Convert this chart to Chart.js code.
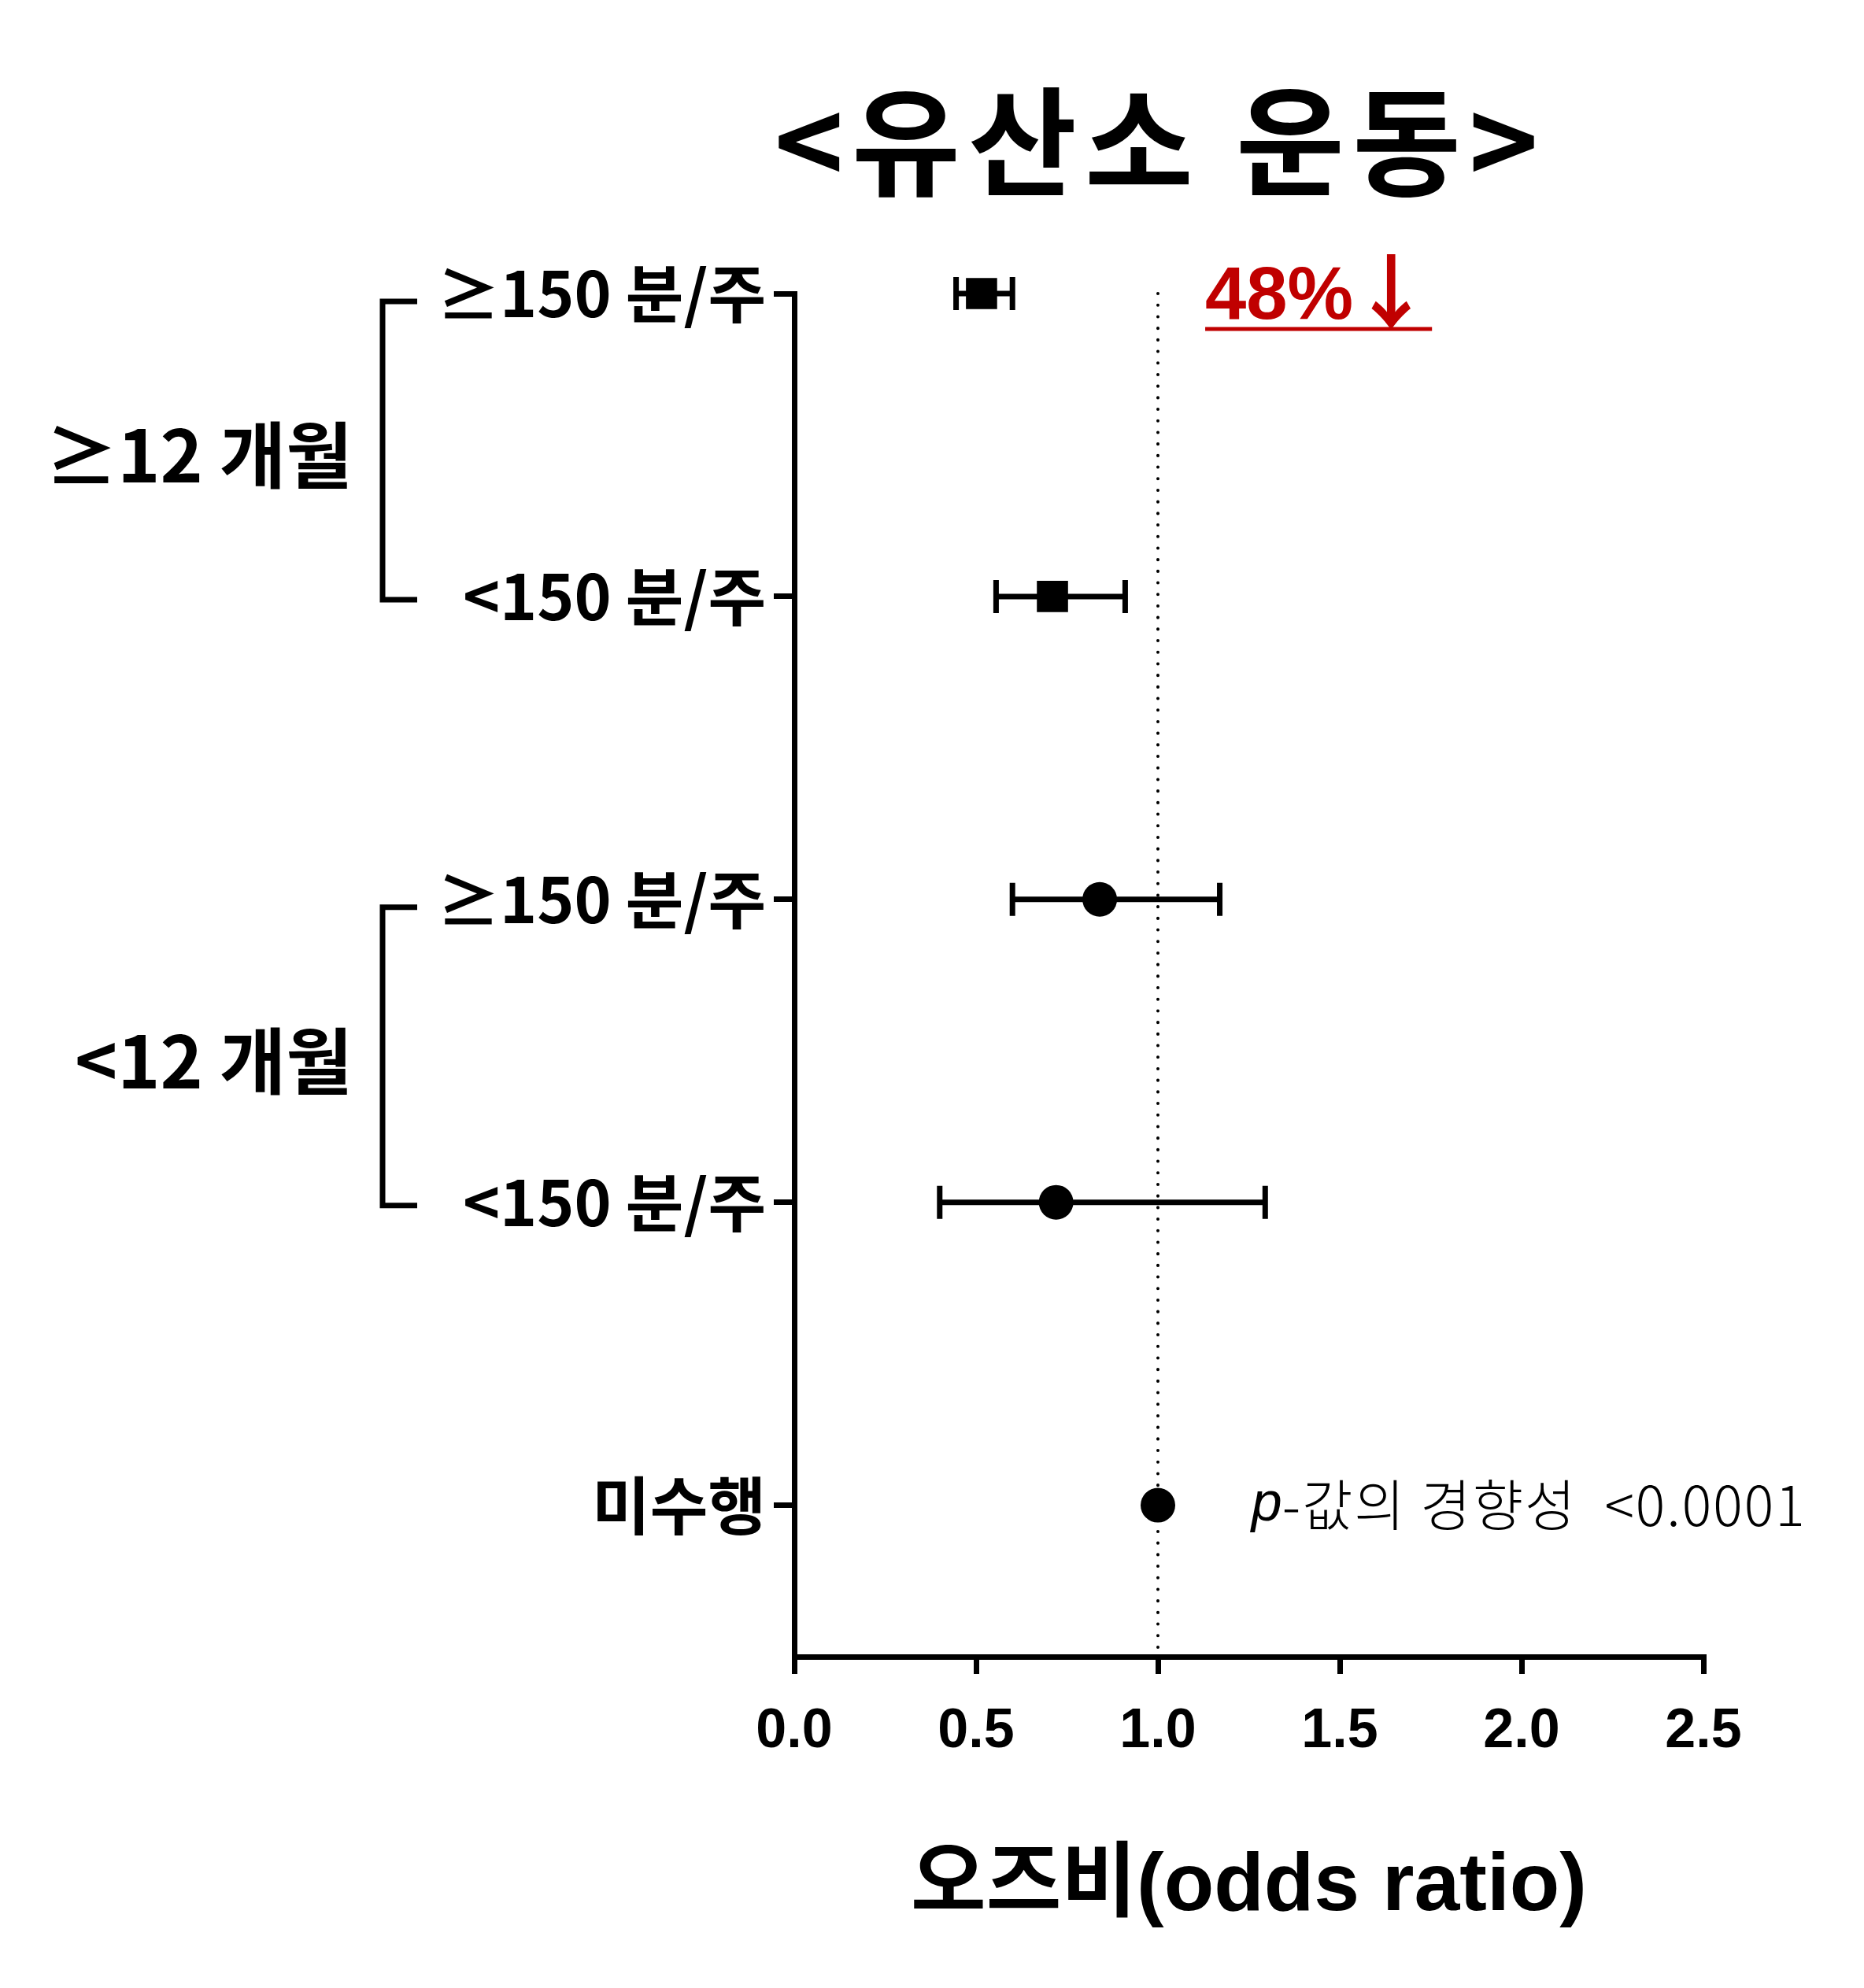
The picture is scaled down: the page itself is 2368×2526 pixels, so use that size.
<!DOCTYPE html>
<html>
<head>
<meta charset="utf-8">
<script src="https://cdn.jsdelivr.net/npm/chart.js@4"></script>
<style>
  html, body { margin: 0; padding: 0; background: #fff; }
  canvas { display: block; }
</style>
</head>
<body>
<canvas id="forestChart" width="2368" height="2526" style="width:2368px;height:2526px"></canvas>
<script>
// rows from bottom (0) to top (4)
const rowLabels = ['미수행', '<150 분/주', '≥150 분/주', '<150 분/주', '≥150 분/주'];
const rowPos = [0, 1, 2, 3, 4];
const oddsRatio = [1.0, 0.72, 0.84, 0.71, 0.515];
const ciLow = [null, 0.40, 0.60, 0.555, 0.445];
const ciHigh = [null, 1.295, 1.17, 0.91, 0.60];
const markerShape = ['circle', 'circle', 'circle', 'rect', 'rect'];
const groupLabels = ['<12 개월', '≥12 개월'];
const groupRows = [[1, 2], [3, 4]];
const xTickValues = [0, 0.5, 1.0, 1.5, 2.0, 2.5];
const refValue = 1.0;

const titleText = '<유산소 운동>';
const xTitleText = '오즈비(odds ratio)';
const reductionText = '48%';
const arrowText = '↓';
const trendText = '-값의 경향성  <0.0001';

const KR = "'Noto Sans CJK KR', sans-serif";

const annotations = {
  id: 'annotations',
  beforeDatasetsDraw(chart) {
    const { ctx, scales: { x, y }, chartArea } = chart;
    ctx.save();
    // dotted reference line at OR = 1
    ctx.strokeStyle = '#000';
    ctx.lineWidth = 4;
    ctx.lineCap = 'round';
    ctx.setLineDash([0.1, 14.6]);
    ctx.beginPath();
    ctx.moveTo(x.getPixelForValue(refValue), y.getPixelForValue(rowPos[4]));
    ctx.lineTo(x.getPixelForValue(refValue), chartArea.bottom);
    ctx.stroke();
    ctx.setLineDash([]);

    // error bars
    ctx.lineCap = 'butt';
    ctx.lineWidth = 7;
    rowPos.forEach((r, i) => {
      if (ciLow[i] == null) return;
      const yp = y.getPixelForValue(r);
      const x1 = x.getPixelForValue(ciLow[i]);
      const x2 = x.getPixelForValue(ciHigh[i]);
      ctx.beginPath();
      ctx.moveTo(x1, yp); ctx.lineTo(x2, yp);
      ctx.moveTo(x1, yp - 21); ctx.lineTo(x1, yp + 21);
      ctx.moveTo(x2, yp - 21); ctx.lineTo(x2, yp + 21);
      ctx.stroke();
    });
    ctx.restore();
  },
  afterDraw(chart) {
    const { ctx, scales: { x, y } } = chart;
    ctx.save();
    ctx.fillStyle = '#000';

    // title
    ctx.font = 'bold 150px ' + KR;
    ctx.letterSpacing = '10px';
    ctx.textAlign = 'center';
    ctx.textBaseline = 'middle';
    ctx.fillText(titleText, 1474, 180);
    ctx.letterSpacing = '0px';

    // x axis title
    ctx.font = "bold 104px 'Liberation Sans', 'Noto Sans CJK KR', sans-serif";
    ctx.fillText(xTitleText, (x.left + x.right) / 2, 2398);

    // group brackets and labels
    ctx.strokeStyle = '#000';
    ctx.lineWidth = 7;
    groupRows.forEach((rows, g) => {
      const yTop = y.getPixelForValue(rows[1]) + 10;
      const yBot = y.getPixelForValue(rows[0]) + 4;
      ctx.beginPath();
      ctx.moveTo(530, yTop); ctx.lineTo(486, yTop); ctx.lineTo(486, yBot); ctx.lineTo(530, yBot);
      ctx.stroke();
      ctx.font = 'bold 92px ' + KR;
      ctx.textAlign = 'right';
      ctx.textBaseline = 'middle';
      ctx.fillText(groupLabels[g], 448, (yTop + yBot) / 2 + 6);
    });

    // reduction annotation
    ctx.fillStyle = '#C00000';
    ctx.strokeStyle = '#C00000';
    ctx.font = "bold 94px 'Liberation Sans Narrow', 'Liberation Sans', sans-serif";
    ctx.textAlign = 'left';
    ctx.textBaseline = 'alphabetic';
    const ax = x.getPixelForValue(1.13);
    const ay = y.getPixelForValue(rowPos[4]) + 32;
    ctx.fillText(reductionText, ax, ay);
    const w1 = ctx.measureText(reductionText).width;
    ctx.font = 'bold 104px ' + KR;
    ctx.fillText(arrowText, ax + w1 - 4, ay + 6);
    const w2 = ctx.measureText(arrowText).width;
    ctx.lineWidth = 5;
    ctx.beginPath();
    ctx.moveTo(ax, ay + 13); ctx.lineTo(ax + w1 + w2 - 4, ay + 13);
    ctx.stroke();

    // p for trend
    ctx.fillStyle = '#000';
    const px = x.getPixelForValue(1.257);
    const py = y.getPixelForValue(rowPos[0]);
    ctx.textBaseline = 'middle';
    ctx.font = "italic 70px 'Liberation Sans', sans-serif";
    ctx.fillText('p', px, py);
    const pw = ctx.measureText('p').width;
    ctx.font = '300 70px ' + KR;
    ctx.letterSpacing = '2px';
    ctx.fillText(trendText, px + pw, py);
    ctx.restore();
  }
};

const ctx = document.getElementById('forestChart').getContext('2d');
new Chart(ctx, {
  type: 'scatter',
  data: {
    datasets: [{
      data: rowPos.map((r, i) => ({ x: oddsRatio[i], y: r })),
      pointStyle: markerShape,
      pointRadius: markerShape.map(s => (s === 'rect' ? 28 : 22)),
      backgroundColor: '#000',
      borderColor: '#000',
      borderWidth: 0,
      clip: false
    }]
  },
  options: {
    responsive: false,
    devicePixelRatio: 1,
    animation: false,
    layout: { padding: { left: 509, right: 204, top: 373, bottom: 121 } },
    plugins: { legend: { display: false }, tooltip: { enabled: false } },
    scales: {
      x: {
        type: 'linear',
        min: 0,
        max: 2.5,
        afterFit: s => { s.height = 300; },
        afterBuildTicks: s => { s.ticks = xTickValues.map(v => ({ value: v })); },
        border: { display: true, color: '#000', width: 7 },
        grid: { drawOnChartArea: false, color: '#000', lineWidth: 7, tickLength: 22 },
        ticks: {
          color: '#000',
          padding: 32,
          font: { family: "'Liberation Sans', sans-serif", weight: 'bold', size: 70 },
          callback: v => v.toFixed(1)
        }
      },
      y: {
        type: 'linear',
        min: -0.5,
        max: 4,
        afterFit: s => { s.width = 500; },
        afterBuildTicks: s => { s.ticks = rowPos.map(v => ({ value: v })); },
        border: { display: true, color: '#000', width: 7 },
        grid: { drawOnChartArea: false, color: '#000', lineWidth: 7, tickLength: 26 },
        ticks: {
          color: '#000',
          padding: 10,
          font: { family: KR, weight: 'bold', size: 80 },
          callback: v => rowLabels[v]
        }
      }
    }
  },
  plugins: [annotations]
});
</script>
</body>
</html>
